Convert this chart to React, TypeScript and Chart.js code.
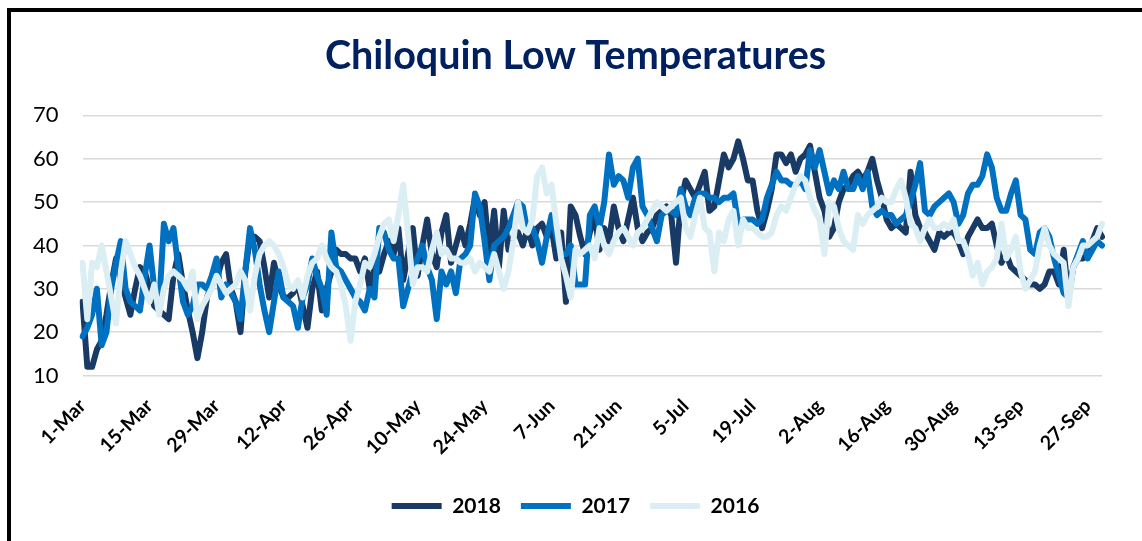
import React, { useEffect, useRef } from "react";
import { Chart, registerables } from "chart.js";

Chart.register(...registerables);

// Categories: 1-Mar .. 30-Sep
const MONTHS = ["Mar", "Apr", "May", "Jun", "Jul", "Aug", "Sep"];
const MONTH_DAYS = [31, 30, 31, 30, 31, 31, 30];
const categories: string[] = [];
MONTHS.forEach((m, i) => {
  for (let d = 1; d <= MONTH_DAYS[i]; d++) categories.push(`${d}-${m}`);
});
const TICK_EVERY = 14;

const Y_MIN = 10;
const Y_MAX = 70;
const Y_STEP = 10;

const SERIES_LABELS = ["2018", "2017", "2016"];

const lows2018 = [
  27, 12, 12, 16, 18, 24, 31, 37, 32, 28, 24, 30, 35, 34,
  30, 26, 25, 24, 23, 33, 38, 31, 25, 20, 14, 20, 28, 31,
  32, 36, 38, 30, 27, 20, 34, 42, 42, 41, 35, 28, 36, 31,
  28, 28, 29, 31, 26, 21, 30, 34, 25, 30, 34, 39, 38, 38,
  37, 37, 34, 37, 30, 35, 34, 38, 41, 38, 44, 32, 38, 44,
  33, 40, 46, 38, 35, 43, 47, 36, 40, 44, 40, 45, 51, 47,
  50, 38, 48, 35, 48, 39, 42, 43, 40, 44, 40, 44, 45, 42,
  44, 37, 43, 27, 49, 47, 42, 38, 43, 47, 39, 44, 41, 49,
  44, 41, 46, 51, 44, 41, 43, 44, 47, 48, 49, 47, 36, 50,
  55, 53, 51, 54, 57, 48, 49, 55, 61, 58, 60, 64, 60, 55,
  55, 48, 44, 48, 53, 61, 61, 59, 61, 57, 60, 61, 63, 57,
  51, 48, 42, 44, 50, 53, 54, 56, 57, 55, 57, 60, 55, 51,
  46, 44, 45, 44, 43, 57, 47, 44, 43, 41, 39, 43, 42, 43,
  43, 41, 38, 42, 44, 46, 44, 44, 45, 40, 36, 38, 35, 34,
  33, 32, 31, 31, 30, 31, 34, 34, 31, 39, 28, 35, 37, 37,
  38, 41, 44, 42,
];

const lows2017 = [
  19, 21, 24, 30, 17, 20, 30, 36, 41, 30, 27, 26, 25, 33,
  40, 30, 26, 45, 41, 44, 35, 27, 24, 26, 31, 31, 30, 33,
  37, 28, 31, 29, 27, 23, 34, 44, 39, 31, 25, 20, 27, 34,
  28, 27, 26, 21, 28, 31, 37, 33, 30, 24, 43, 35, 34, 32,
  30, 28, 27, 25, 30, 28, 44, 43, 39, 37, 37, 26, 30, 34,
  37, 40, 35, 32, 23, 34, 31, 34, 29, 37, 38, 40, 52, 49,
  41, 32, 40, 41, 42, 44, 47, 50, 49, 43, 44, 41, 36, 42,
  47, 42, 38, 38, 40, 31, 31, 31, 47, 49, 44, 50, 61, 54,
  56, 55, 51, 58, 60, 49, 47, 44, 41, 47, 48, 48, 47, 53,
  49, 47, 51, 52, 52, 51, 51, 50, 51, 51, 52, 45, 46, 46,
  46, 45, 46, 51, 54, 57, 55, 55, 54, 54, 55, 53, 62, 58,
  62, 57, 52, 55, 53, 57, 53, 53, 56, 53, 57, 49, 47, 48,
  47, 47, 45, 46, 47, 50, 54, 59, 48, 47, 49, 50, 51, 52,
  50, 45, 47, 52, 54, 54, 56, 61, 58, 51, 48, 48, 52, 55,
  47, 46, 39, 38, 43, 44, 42, 37, 33, 29, 28, 35, 38, 41,
  37, 39, 41, 40,
];

const lows2016 = [
  36, 23, 36, 35, 40, 34, 28, 22, 34, 41, 38, 35, 33, 30,
  27, 31, 24, 30, 33, 34, 33, 32, 30, 34, 23, 26, 28, 30,
  33, 31, 29, 30, 31, 34, 32, 25, 33, 38, 40, 41, 40, 38,
  35, 31, 30, 32, 28, 33, 36, 37, 40, 37, 35, 34, 31, 26,
  18, 27, 31, 36, 35, 38, 42, 45, 46, 41, 47, 54, 43, 31,
  35, 35, 34, 39, 43, 38, 39, 37, 37, 36, 36, 37, 34, 36,
  35, 34, 38, 34, 30, 34, 41, 50, 44, 43, 46, 56, 58, 52,
  54, 45, 37, 33, 28, 39, 38, 39, 40, 37, 44, 40, 38, 41,
  43, 44, 42, 40, 43, 44, 46, 48, 50, 49, 48, 49, 50, 51,
  44, 42, 47, 51, 44, 43, 34, 43, 41, 46, 48, 40, 46, 44,
  44, 43, 42, 42, 43, 47, 49, 48, 51, 54, 56, 55, 51, 48,
  46, 38, 50, 49, 44, 41, 40, 39, 47, 45, 47, 48, 49, 51,
  50, 50, 53, 55, 51, 45, 44, 41, 44, 46, 44, 44, 45, 44,
  46, 41, 41, 38, 33, 36, 31, 34, 35, 37, 45, 37, 39, 42,
  34, 30, 32, 34, 40, 44, 40, 38, 37, 36, 26, 35, 37, 40,
  40, 41, 42, 45,
];

const COLORS = ["#183A64", "#0070C0", "#DAEEF3"];

export default function App() {
  const canvasRef = useRef<HTMLCanvasElement | null>(null);

  useEffect(() => {
    const canvas = canvasRef.current;
    if (!canvas) return;
    const seriesData = [lows2018, lows2017, lows2016];
    const chart = new Chart(canvas, {
      type: "line",
      data: {
        labels: categories,
        datasets: SERIES_LABELS.map((label, i) => ({
          label,
          data: seriesData[i],
          borderColor: COLORS[i],
          backgroundColor: COLORS[i],
          borderWidth: 6,
          borderCapStyle: "round" as const,
          borderJoinStyle: "round" as const,
          pointRadius: 0,
          pointHoverRadius: 0,
          tension: 0,
          fill: false,
          order: 3 - i,
        })),
      },
      options: {
        animation: false,
        responsive: false,
        devicePixelRatio: 1,
        events: [],
        layout: { padding: { left: 9, right: 0, top: 0, bottom: 14.5 } },
        plugins: {
          title: {
            display: true,
            text: "Chiloquin Low Temperatures",
            color: "#002060",
            font: { family: "Lato", size: 39.5, weight: "bold" },
            padding: { top: 33, bottom: 35 },
          },
          legend: {
            position: "bottom",
            labels: {
              usePointStyle: true,
              pointStyle: "line",
              pointStyleWidth: 50,
              color: "#000000",
              font: { family: "Lato", size: 21, weight: "bold" },
              padding: 20,
              sort: (a: any, b: any) => a.datasetIndex - b.datasetIndex,
            },
          },
          tooltip: { enabled: false },
        },
        scales: {
          x: {
            grid: { display: false, drawTicks: false },
            border: { display: false },
            afterFit: (scale: any) => {
              scale.height = 100;
            },
            ticks: {
              autoSkip: false,
              maxRotation: 45,
              minRotation: 45,
              padding: 19,
              color: "#000000",
              font: { family: "Lato", size: 19.5, weight: "bold" },
              callback: (_v: any, i: number) =>
                i % TICK_EVERY === 0 ? categories[i] : "",
            },
          },
          y: {
            min: Y_MIN,
            max: Y_MAX,
            grid: { color: "#D9D9D9", lineWidth: 1.5, drawTicks: false },
            border: { display: false },
            ticks: {
              stepSize: Y_STEP,
              padding: 24,
              color: "#000000",
              font: { family: "Lato", size: 22 },
            },
          },
          yRightSpace: {
            position: "right",
            display: true,
            grid: { display: false, drawTicks: false },
            border: { display: false },
            ticks: { display: false },
            afterFit: (scale: any) => {
              scale.width = 40;
            },
          },
        },
      },
    });
    return () => chart.destroy();
  }, []);

  return (
    <div
      style={{
        position: "absolute",
        left: 0,
        top: 0,
        width: 1142,
        height: 541,
        background: "#ffffff",
        overflow: "hidden",
      }}
    >
      <canvas
        ref={canvasRef}
        width={1142}
        height={541}
        style={{ position: "absolute", left: 0, top: 0, width: 1142, height: 541 }}
      />
      <div
        style={{
          position: "absolute",
          left: 7,
          top: 8,
          width: 1135,
          height: 533,
          boxSizing: "border-box",
          borderTop: "4px solid #000",
          borderLeft: "4px solid #000",
          pointerEvents: "none",
        }}
      />
    </div>
  );
}
